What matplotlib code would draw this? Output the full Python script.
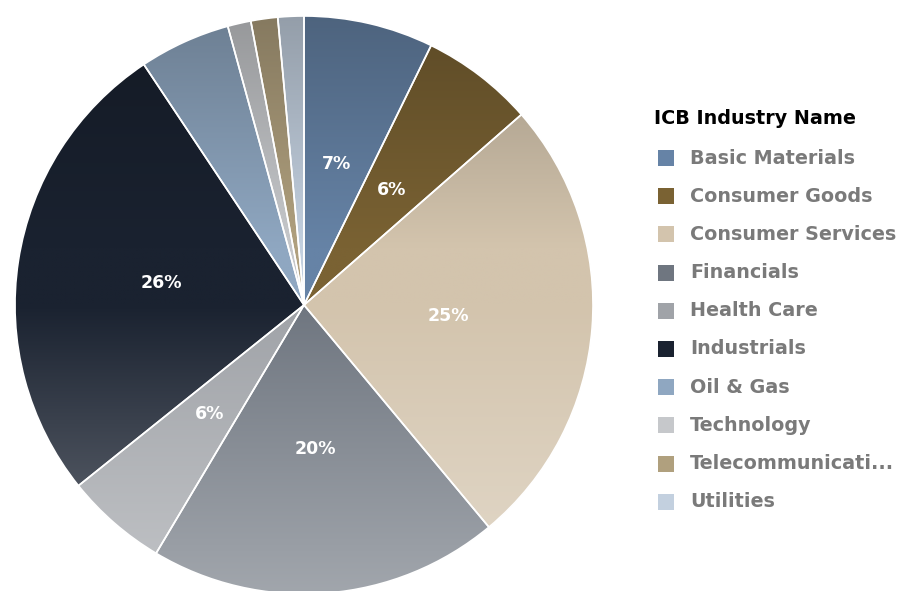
import matplotlib.pyplot as plt
import numpy as np
from matplotlib.colors import to_rgb
from matplotlib.patches import Rectangle

# --- dados (percentual por indústria)
categorias = ['Basic Materials', 'Consumer Goods', 'Consumer Services', 'Financials',
              'Health Care', 'Industrials', 'Oil & Gas', 'Technology',
              'Telecommunicati...', 'Utilities']
valores = [7.25, 6.3, 25.4, 19.6, 5.7, 26.4, 5.1, 1.3, 1.5, 1.45]
cores = ['#6683a6', '#7a6233', '#d3c4ad', '#6f7680', '#a0a3a8',
         '#1a2230', '#8fa7c1', '#c6c8cb', '#b0a07e', '#c3d0df']

plt.rcParams['font.family'] = ['DejaVu Sans']

fig = plt.figure(figsize=(9.10, 5.91), dpi=100)

# pie centrado em (304, 305) px, raio 289 px
cx, cy, r = 304, 591 - 305, 289
ax = fig.add_axes([(cx - r) / 910, (cy - r) / 591, 2 * r / 910, 2 * r / 591])


def rotulo(p):
    return f'{p:.0f}%' if p >= 5.5 else ''


wedges, textos, autotextos = ax.pie(
    valores,
    startangle=90,
    counterclock=False,
    radius=1,
    pctdistance=0.5,
    autopct=rotulo,
    wedgeprops=dict(facecolor='none', edgecolor='white', linewidth=1.2, zorder=3),
    textprops=dict(color='white', fontsize=12.5, fontweight='bold', zorder=4),
)

# degradê vertical em cada fatia (mais escuro em cima, mais claro embaixo)
ys = np.linspace(1, -1, 300)[:, None]
for w, c in zip(wedges, cores):
    base = np.array(to_rgb(c))
    mult = np.where(ys > 0.2, 1 - 0.3 * (ys - 0.2), 1.0)
    mix = np.where(ys < 0, 0.35 * (-ys), 0.0)
    img = base[None, None, :] * mult[..., None]
    img = img * (1 - mix[..., None]) + mix[..., None]
    img = np.repeat(img, 2, axis=1)
    im = ax.imshow(np.clip(img, 0, 1), extent=(-1, 1, -1, 1), origin='upper',
                   interpolation='bilinear', zorder=1, aspect='auto')
    im.set_clip_path(w)

ax.set_xlim(-1, 1)
ax.set_ylim(-1, 1)
ax.set_axis_off()

# --- legenda manual
fig.text(654 / 910, 1 - 118 / 591, 'ICB Industry Name', fontsize=13.8, fontweight='bold',
         color='black', va='center', ha='left')
for i, (nome, c) in enumerate(zip(categorias, cores)):
    y = 158 + i * 38.2
    fig.patches.append(Rectangle((658 / 910, 1 - (y + 8) / 591), 16 / 910, 16 / 591,
                                 transform=fig.transFigure, facecolor=c, edgecolor='none'))
    fig.text(690 / 910, 1 - y / 591, nome, fontsize=13.8, fontweight='bold',
             color='#7a7a7a', va='center', ha='left')

fig.savefig('out.png', dpi=100)
